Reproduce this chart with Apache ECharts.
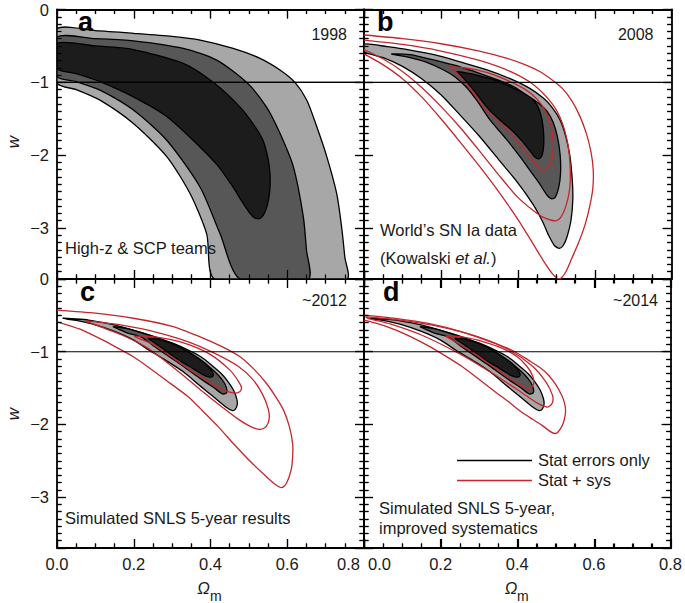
<!DOCTYPE html>
<html><head><meta charset="utf-8">
<script src="https://cdn.jsdelivr.net/npm/echarts@6/dist/echarts.min.js"></script>
<style>html,body{margin:0;padding:0;background:#fff}#c{position:absolute;left:0;top:0;width:685px;height:603px}#t{position:absolute;left:0;top:0;width:685px;height:603px;pointer-events:none}</style>
</head><body><div id="c"></div><div id="t"></div>
<script>
// ---------- axis ticks / labels ----------
const X_MAJOR = [0, 0.2, 0.4, 0.6, 0.8];
const X_MINOR = [0.05, 0.1, 0.15, 0.25, 0.3, 0.35, 0.45, 0.5, 0.55, 0.65, 0.7, 0.75];
const Y_MAJOR = [0, -1, -2, -3];
const Y_MINOR = [-0.1,-0.2,-0.3,-0.4,-0.5,-0.6,-0.7,-0.8,-0.9,-1.1,-1.2,-1.3,-1.4,-1.5,-1.6,-1.7,-1.8,-1.9,
  -2.1,-2.2,-2.3,-2.4,-2.5,-2.6,-2.7,-2.8,-2.9,-3.1,-3.2,-3.3,-3.4,-3.5,-3.6];
const W_REF = [[0, -1], [0.8, -1]];
const PANEL_LETTERS = ['a', 'b', 'c', 'd'];
const PANEL_YEARS = ['1998', '2008', '~2012', '~2014'];
const LEGEND_LABELS = ['Stat errors only', 'Stat + sys'];

// ---------- contour data [Omega_m, w] ----------
const A_LIGHT = [[0,-0.27],[0.1,-0.29],[0.199,-0.327],[0.3,-0.37],[0.373,-0.42],[0.459,-0.534],[0.529,-0.67],[0.581,-0.83],[0.62,-1.0],[0.651,-1.245],[0.677,-1.61],[0.703,-2.02],[0.729,-2.53],[0.742,-3.0],[0.75,-3.4],[0.755,-3.7],[0.412,-3.7],[0.39,-3.08],[0.347,-2.53],[0.286,-2.02],[0.199,-1.565],[0.112,-1.245],[0.05,-1.1],[0,-1.01]];
const A_MID = [[0,-0.38],[0.1,-0.40],[0.199,-0.43],[0.329,-0.534],[0.416,-0.695],[0.494,-1.0],[0.546,-1.34],[0.581,-1.70],[0.616,-2.16],[0.642,-2.85],[0.65,-3.3],[0.655,-3.7],[0.477,-3.7],[0.425,-3.08],[0.373,-2.44],[0.286,-1.795],[0.199,-1.38],[0.112,-1.107],[0.05,-0.99],[0,-0.92]];
const A_DARK = [[0,-0.465],[0.1,-0.5],[0.199,-0.55],[0.329,-0.74],[0.407,-1.0],[0.477,-1.34],[0.515,-1.6],[0.537,-1.80],[0.55,-2.05],[0.555,-2.25],[0.555,-2.45],[0.551,-2.62],[0.542,-2.78],[0.529,-2.87],[0.515,-2.86],[0.503,-2.80],[0.48,-2.62],[0.459,-2.44],[0.42,-2.15],[0.373,-1.89],[0.286,-1.47],[0.199,-1.2],[0.112,-0.99],[0.05,-0.88],[0,-0.81]];

const B_LIGHT = [[0,-0.475],[0.06,-0.51],[0.12,-0.557],[0.19,-0.63],[0.25,-0.72],[0.32,-0.83],[0.38,-0.95],[0.43,-1.08],[0.467,-1.22],[0.49,-1.35],[0.51,-1.52],[0.525,-1.75],[0.535,-2.0],[0.541,-2.3],[0.543,-2.6],[0.538,-2.9],[0.528,-3.12],[0.518,-3.24],[0.508,-3.28],[0.495,-3.24],[0.48,-3.1],[0.465,-2.92],[0.44,-2.68],[0.4,-2.38],[0.35,-2.06],[0.3,-1.74],[0.25,-1.45],[0.2,-1.17],[0.15,-0.95],[0.1,-0.78],[0.05,-0.66],[0,-0.58]];
const B_MID = [[0.072,-0.61],[0.12,-0.62],[0.163,-0.67],[0.25,-0.787],[0.337,-0.946],[0.39,-1.06],[0.424,-1.18],[0.455,-1.29],[0.476,-1.40],[0.492,-1.55],[0.503,-1.75],[0.51,-2.0],[0.511,-2.25],[0.506,-2.45],[0.497,-2.58],[0.488,-2.60],[0.476,-2.55],[0.455,-2.38],[0.43,-2.2],[0.41,-2.05],[0.37,-1.78],[0.328,-1.52],[0.293,-1.245],[0.265,-1.06],[0.235,-0.92],[0.207,-0.83],[0.16,-0.72],[0.12,-0.66],[0.085,-0.625]];
const B_DARK = [[0.241,-0.855],[0.265,-0.87],[0.293,-0.90],[0.34,-0.97],[0.38,-1.06],[0.415,-1.15],[0.441,-1.245],[0.455,-1.37],[0.463,-1.52],[0.467,-1.7],[0.467,-1.88],[0.463,-2.0],[0.455,-2.05],[0.445,-2.03],[0.43,-1.93],[0.41,-1.8],[0.385,-1.66],[0.354,-1.52],[0.319,-1.34],[0.29,-1.14],[0.265,-0.98],[0.248,-0.89]];
const B_RED_OUT = [[0,-0.35],[0.1,-0.40],[0.2,-0.47],[0.3,-0.57],[0.372,-0.67],[0.42,-0.76],[0.458,-0.855],[0.49,-0.97],[0.515,-1.08],[0.54,-1.25],[0.56,-1.45],[0.578,-1.7],[0.59,-1.95],[0.596,-2.2],[0.595,-2.45],[0.587,-2.7],[0.575,-2.95],[0.558,-3.2],[0.54,-3.42],[0.525,-3.6],[0.514,-3.68],[0.506,-3.70],[0.49,-3.63],[0.47,-3.48],[0.44,-3.22],[0.4,-2.88],[0.35,-2.5],[0.3,-2.15],[0.25,-1.82],[0.2,-1.5],[0.15,-1.2],[0.1,-0.95],[0.05,-0.76],[0,-0.61]];
const B_RED_MID = [[0,-0.42],[0.1,-0.48],[0.2,-0.57],[0.3,-0.70],[0.38,-0.85],[0.44,-1.03],[0.49,-1.3],[0.515,-1.55],[0.53,-1.85],[0.536,-2.15],[0.535,-2.45],[0.525,-2.7],[0.512,-2.85],[0.5,-2.9],[0.485,-2.89],[0.465,-2.85],[0.44,-2.76],[0.4,-2.58],[0.35,-2.27],[0.3,-1.94],[0.25,-1.62],[0.2,-1.33],[0.15,-1.07],[0.1,-0.85],[0.05,-0.68],[0,-0.55]];
const B_RED_IN = [[0.224,-0.79],[0.26,-0.80],[0.293,-0.83],[0.34,-0.9],[0.38,-0.99],[0.42,-1.1],[0.45,-1.23],[0.472,-1.4],[0.486,-1.6],[0.492,-1.8],[0.491,-1.98],[0.484,-2.12],[0.471,-2.2],[0.458,-2.19],[0.443,-2.1],[0.42,-1.95],[0.39,-1.75],[0.346,-1.52],[0.311,-1.34],[0.285,-1.15],[0.262,-1.0],[0.24,-0.86]];

const CD_LIGHT = [[0.016,-0.54],[0.05,-0.55],[0.082,-0.565],[0.125,-0.605],[0.169,-0.657],[0.21,-0.72],[0.255,-0.795],[0.3,-0.88],[0.342,-0.978],[0.375,-1.07],[0.403,-1.185],[0.428,-1.3],[0.446,-1.415],[0.46,-1.53],[0.468,-1.64],[0.47,-1.72],[0.465,-1.79],[0.457,-1.81],[0.44,-1.76],[0.41,-1.63],[0.373,-1.47],[0.33,-1.28],[0.29,-1.14],[0.24,-0.98],[0.2,-0.84],[0.15,-0.72],[0.1,-0.63],[0.05,-0.57],[0.025,-0.55]];
const CD_MID = [[0.147,-0.657],[0.18,-0.68],[0.212,-0.726],[0.255,-0.80],[0.299,-0.886],[0.335,-0.98],[0.368,-1.09],[0.395,-1.2],[0.42,-1.32],[0.435,-1.42],[0.442,-1.505],[0.442,-1.56],[0.436,-1.58],[0.429,-1.575],[0.41,-1.5],[0.386,-1.415],[0.355,-1.3],[0.325,-1.185],[0.29,-1.06],[0.255,-0.932],[0.22,-0.8],[0.186,-0.748],[0.16,-0.69]];
const CD_DARK = [[0.238,-0.817],[0.26,-0.825],[0.273,-0.84],[0.31,-0.91],[0.342,-1.0],[0.365,-1.08],[0.386,-1.16],[0.4,-1.24],[0.407,-1.30],[0.406,-1.34],[0.398,-1.35],[0.385,-1.33],[0.368,-1.277],[0.345,-1.2],[0.325,-1.14],[0.3,-1.05],[0.281,-0.978],[0.263,-0.91],[0.247,-0.854]];

const C_RED_OUT = [[0,-0.427],[0.1,-0.47],[0.199,-0.54],[0.3,-0.65],[0.373,-0.795],[0.43,-0.93],[0.477,-1.07],[0.515,-1.25],[0.546,-1.437],[0.57,-1.62],[0.59,-1.80],[0.605,-2.02],[0.614,-2.26],[0.614,-2.45],[0.61,-2.63],[0.598,-2.81],[0.586,-2.87],[0.57,-2.83],[0.546,-2.72],[0.5,-2.49],[0.459,-2.26],[0.42,-2.03],[0.373,-1.78],[0.342,-1.62],[0.286,-1.40],[0.24,-1.22],[0.199,-1.07],[0.155,-0.94],[0.112,-0.82],[0.06,-0.69],[0,-0.588]];
const C_RED_MID = [[0.073,-0.58],[0.12,-0.6],[0.169,-0.634],[0.25,-0.72],[0.342,-0.864],[0.41,-1.02],[0.472,-1.2],[0.51,-1.38],[0.535,-1.58],[0.55,-1.78],[0.553,-1.92],[0.545,-2.03],[0.529,-2.07],[0.505,-2.03],[0.47,-1.92],[0.43,-1.76],[0.38,-1.55],[0.33,-1.33],[0.28,-1.12],[0.23,-0.93],[0.169,-0.77],[0.12,-0.67],[0.09,-0.61]];
const C_RED_IN = [[0.203,-0.79],[0.26,-0.80],[0.33,-0.88],[0.40,-1.04],[0.45,-1.25],[0.472,-1.4],[0.481,-1.5],[0.476,-1.55],[0.462,-1.57],[0.44,-1.54],[0.41,-1.46],[0.36,-1.30],[0.30,-1.08],[0.25,-0.90],[0.215,-0.82]];

const D_RED_OUT = [[0,-0.496],[0.082,-0.541],[0.168,-0.61],[0.255,-0.726],[0.342,-0.886],[0.39,-0.99],[0.429,-1.116],[0.46,-1.22],[0.481,-1.32],[0.5,-1.45],[0.516,-1.6],[0.524,-1.72],[0.526,-1.83],[0.522,-1.95],[0.516,-2.03],[0.503,-2.12],[0.49,-2.11],[0.464,-2.01],[0.44,-1.93],[0.411,-1.83],[0.38,-1.7],[0.342,-1.55],[0.3,-1.38],[0.255,-1.2],[0.21,-1.05],[0.168,-0.92],[0.12,-0.79],[0.082,-0.70],[0.04,-0.62],[0,-0.565]];
const D_RED_MID = [[0.005,-0.52],[0.1,-0.57],[0.2,-0.66],[0.3,-0.80],[0.38,-0.98],[0.44,-1.2],[0.475,-1.42],[0.492,-1.6],[0.492,-1.7],[0.484,-1.75],[0.476,-1.76],[0.45,-1.70],[0.4,-1.52],[0.33,-1.28],[0.25,-1.03],[0.15,-0.77],[0.07,-0.62],[0.01,-0.54]];
const D_RED_IN = [[0.215,-0.79],[0.26,-0.80],[0.31,-0.86],[0.36,-0.95],[0.40,-1.07],[0.425,-1.2],[0.44,-1.33],[0.443,-1.43],[0.437,-1.49],[0.425,-1.5],[0.405,-1.45],[0.37,-1.33],[0.33,-1.18],[0.29,-1.03],[0.25,-0.9],[0.225,-0.82]];

// ---------- styling ----------
const FONT = 'Liberation Sans, Arial, Helvetica, sans-serif';
const C_LIGHT = '#a7a7a7', C_MIDC = '#575757', C_DARKC = '#1c1c1c', C_RED = '#c6262b';
const GRIDS = [
  {left: 57, top: 9.5, width: 307, height: 269.5},
  {left: 364, top: 9.5, width: 307.7, height: 269.5},
  {left: 57, top: 279, width: 307, height: 269},
  {left: 364, top: 279, width: 307.7, height: 269}
];
const MAJ = 9, MIN = 4.5;

function contour(g, pts, fill, stroke, closed) {
  return {
    type: 'custom', coordinateSystem: 'cartesian2d',
    xAxisIndex: 2 * g, yAxisIndex: 2 * g, clip: true, silent: true,
    data: pts, encode: {x: 0, y: 1},
    renderItem: function (params, api) {
      if (params.dataIndex !== 0) return null;
      const cs = params.coordSys;
      const points = pts.map(function (p) { return api.coord(p); });
      return {
        type: closed ? 'polygon' : 'polyline',
        shape: {points: points, smooth: 0.25,
          smoothConstraint: [[cs.x, cs.y], [cs.x + cs.width, cs.y + cs.height]]},
        style: {fill: fill || 'none', stroke: stroke, lineWidth: 1.3}
      };
    }
  };
}

const tickStyle = {color: '#000', width: 1.2};
function xAxis(g, pos, labels, labelExtra, lineShow) {
  return {
    type: 'value', gridIndex: g, position: pos, min: 0, max: 0.8,
    minInterval: 0.2, maxInterval: 0.2,
    axisLine: {show: lineShow !== false, onZero: false, lineStyle: {color: '#000', width: 1.8}},
    axisTick: {show: true, inside: true, length: MAJ, lineStyle: tickStyle},
    minorTick: {show: true, splitNumber: 4, length: MIN, lineStyle: tickStyle},
    splitLine: {show: false}, minorSplitLine: {show: false},
    axisLabel: Object.assign({show: labels, fontFamily: FONT, fontSize: 16.5, color: '#1a1a1a', margin: 7,
      formatter: function (v) { return v.toFixed(1); }}, labelExtra || {})
  };
}
function yAxis(g, pos, labels, lineShow) {
  return {
    type: 'value', gridIndex: g, position: pos, min: -3.7, max: 0,
    minInterval: 1, maxInterval: 1,
    axisLine: {show: lineShow !== false, onZero: false, lineStyle: {color: '#000', width: 1.8}},
    axisTick: {show: true, inside: true, length: MAJ, lineStyle: tickStyle},
    minorTick: {show: true, splitNumber: 10, length: MIN, lineStyle: tickStyle},
    splitLine: {show: false}, minorSplitLine: {show: false},
    axisLabel: {show: labels, showMinLabel: false, fontFamily: FONT, fontSize: 16.5, color: '#1a1a1a', margin: 8,
      formatter: function (v) {
        if (Y_MAJOR.indexOf(v) < 0) return '';
        return v === 0 ? '0' : '\u2212' + Math.abs(v);
      }}
  };
}

const xAxes = [], yAxes = [], tickX = [], tickY = [];
for (let g = 0; g < 4; g++) {
  let extra = null;
  if (g === 2) extra = {alignMaxLabel: 'right', formatter: function (v) { return v === 0.8 ? '{p|0.8}' : v.toFixed(1); },
    rich: {p: {padding: [0, 4, 0, 0], fontSize: 16.5, fontFamily: FONT, color: '#1a1a1a'}}};
  if (g === 3) extra = {alignMinLabel: 'left', formatter: function (v) { return v === 0 ? '{p|0.0}' : v.toFixed(1); },
    rich: {p: {padding: [0, 0, 0, 4], fontSize: 16.5, fontFamily: FONT, color: '#1a1a1a'}}};
  xAxes.push(xAxis(g, 'bottom', g >= 2, extra));
  xAxes.push(xAxis(g, 'top', false));
  yAxes.push(yAxis(g, 'left', g === 0 || g === 2));
  yAxes.push(yAxis(g, 'right', false));
  // tick-only copies for the transparent overlay layer
  tickX.push(xAxis(g, 'bottom', false, null, false));
  tickX.push(xAxis(g, 'top', false, null, false));
  tickY.push(yAxis(g, 'left', false, false));
  tickY.push(yAxis(g, 'right', false, false));
}

const series = [];
function panelFills(g, light, mid, dark) {
  series.push(contour(g, light, C_LIGHT, '#000', true));
  series.push(contour(g, mid, C_MIDC, '#000', true));
  series.push(contour(g, dark, C_DARKC, '#000', true));
}
panelFills(0, A_LIGHT, A_MID, A_DARK);
panelFills(1, B_LIGHT, B_MID, B_DARK);
series.push(contour(1, B_RED_OUT, null, C_RED, false));
series.push(contour(1, B_RED_MID, null, C_RED, false));
series.push(contour(1, B_RED_IN, null, C_RED, true));
panelFills(2, CD_LIGHT, CD_MID, CD_DARK);
series.push(contour(2, C_RED_OUT, null, C_RED, false));
series.push(contour(2, C_RED_MID, null, C_RED, true));
series.push(contour(2, C_RED_IN, null, C_RED, true));
panelFills(3, CD_LIGHT, CD_MID, CD_DARK);
series.push(contour(3, D_RED_OUT, null, C_RED, false));
series.push(contour(3, D_RED_MID, null, C_RED, true));
series.push(contour(3, D_RED_IN, null, C_RED, true));
for (let g = 0; g < 4; g++) {
  series.push({type: 'line', xAxisIndex: 2 * g, yAxisIndex: 2 * g, data: W_REF, symbol: 'none', silent: true,
    lineStyle: {color: '#000', width: 1.1}, z: 5});
}

function txt(x, y, text, font, align, fill) {
  return {type: 'text', z: 100, style: {x: x, y: y, text: text, font: font, fill: fill || '#1a1a1a',
    align: align, verticalAlign: 'middle'}};
}
const F16 = '16.5px ' + FONT;
const letterPos = [[78, 22], [377, 22], [80, 292], [383, 292]];
const yearPos = [[347, 34], [653.5, 34], [347, 300.5], [658, 300.5]];
const graphics = [];
for (let i = 0; i < 4; i++) {
  graphics.push(txt(letterPos[i][0], letterPos[i][1], PANEL_LETTERS[i], 'bold 27px ' + FONT, 'left', '#000'));
  graphics.push(txt(yearPos[i][0], yearPos[i][1], PANEL_YEARS[i], '16px ' + FONT, 'right'));
}
graphics.push(txt(65, 248, 'High-z & SCP teams', F16, 'left'));
graphics.push(txt(380, 230, 'World\u2019s SN Ia data', F16, 'left'));
graphics.push({type: 'text', z: 100, style: {x: 380, y: 258, text: '(Kowalski {i|et al.})', font: F16, fill: '#1a1a1a',
  align: 'left', verticalAlign: 'middle', rich: {i: {fontStyle: 'italic', fontSize: 16.5, fontFamily: FONT, fill: '#1a1a1a'}}}});
graphics.push(txt(65, 518, 'Simulated SNLS 5-year results', F16, 'left'));
graphics.push(txt(379, 508, 'Simulated SNLS 5-year,', F16, 'left'));
graphics.push(txt(379, 528, 'improved systematics', F16, 'left'));
graphics.push({type: 'line', z: 100, shape: {x1: 457, y1: 460.5, x2: 532, y2: 460.5}, style: {stroke: '#000', lineWidth: 1.6}});
graphics.push({type: 'line', z: 100, shape: {x1: 457, y1: 480.5, x2: 532, y2: 480.5}, style: {stroke: C_RED, lineWidth: 1.3}});
graphics.push(txt(538, 460, LEGEND_LABELS[0], F16, 'left'));
graphics.push(txt(538, 480, LEGEND_LABELS[1], F16, 'left'));
graphics.push({type: 'text', z: 100, x: 13, y: 142, rotation: Math.PI / 2,
  style: {x: 0, y: 0, text: 'w', font: 'italic 17px ' + FONT, fill: '#1a1a1a', align: 'center', verticalAlign: 'middle'}});
graphics.push({type: 'text', z: 100, x: 13, y: 414, rotation: Math.PI / 2,
  style: {x: 0, y: 0, text: 'w', font: 'italic 17px ' + FONT, fill: '#1a1a1a', align: 'center', verticalAlign: 'middle'}});
graphics.push(txt(203.5, 587.5, '\u03A9', 'italic 16.5px ' + FONT, 'center'));
graphics.push(txt(210, 595.5, 'm', '14px ' + FONT, 'left'));
graphics.push(txt(511, 587.5, '\u03A9', 'italic 16.5px ' + FONT, 'center'));
graphics.push(txt(517, 595.5, 'm', '14px ' + FONT, 'left'));

const chart = echarts.init(document.getElementById('c'), null, {renderer: 'svg'});
chart.setOption({
  animation: false,
  backgroundColor: '#fff',
  grid: GRIDS,
  xAxis: xAxes,
  yAxis: yAxes,
  series: series,
  graphic: {elements: graphics}
});

// transparent overlay that draws the inward tick marks of the same axes
const tickLayer = echarts.init(document.getElementById('t'), null, {renderer: 'canvas'});
tickLayer.setOption({
  animation: false,
  backgroundColor: 'transparent',
  grid: GRIDS,
  xAxis: tickX,
  yAxis: tickY,
  series: [{type: 'line', xAxisIndex: 0, yAxisIndex: 0, data: W_REF, symbol: 'none', silent: true,
    lineStyle: {color: '#000', width: 1.1}}]
});
</script>
</body></html>
